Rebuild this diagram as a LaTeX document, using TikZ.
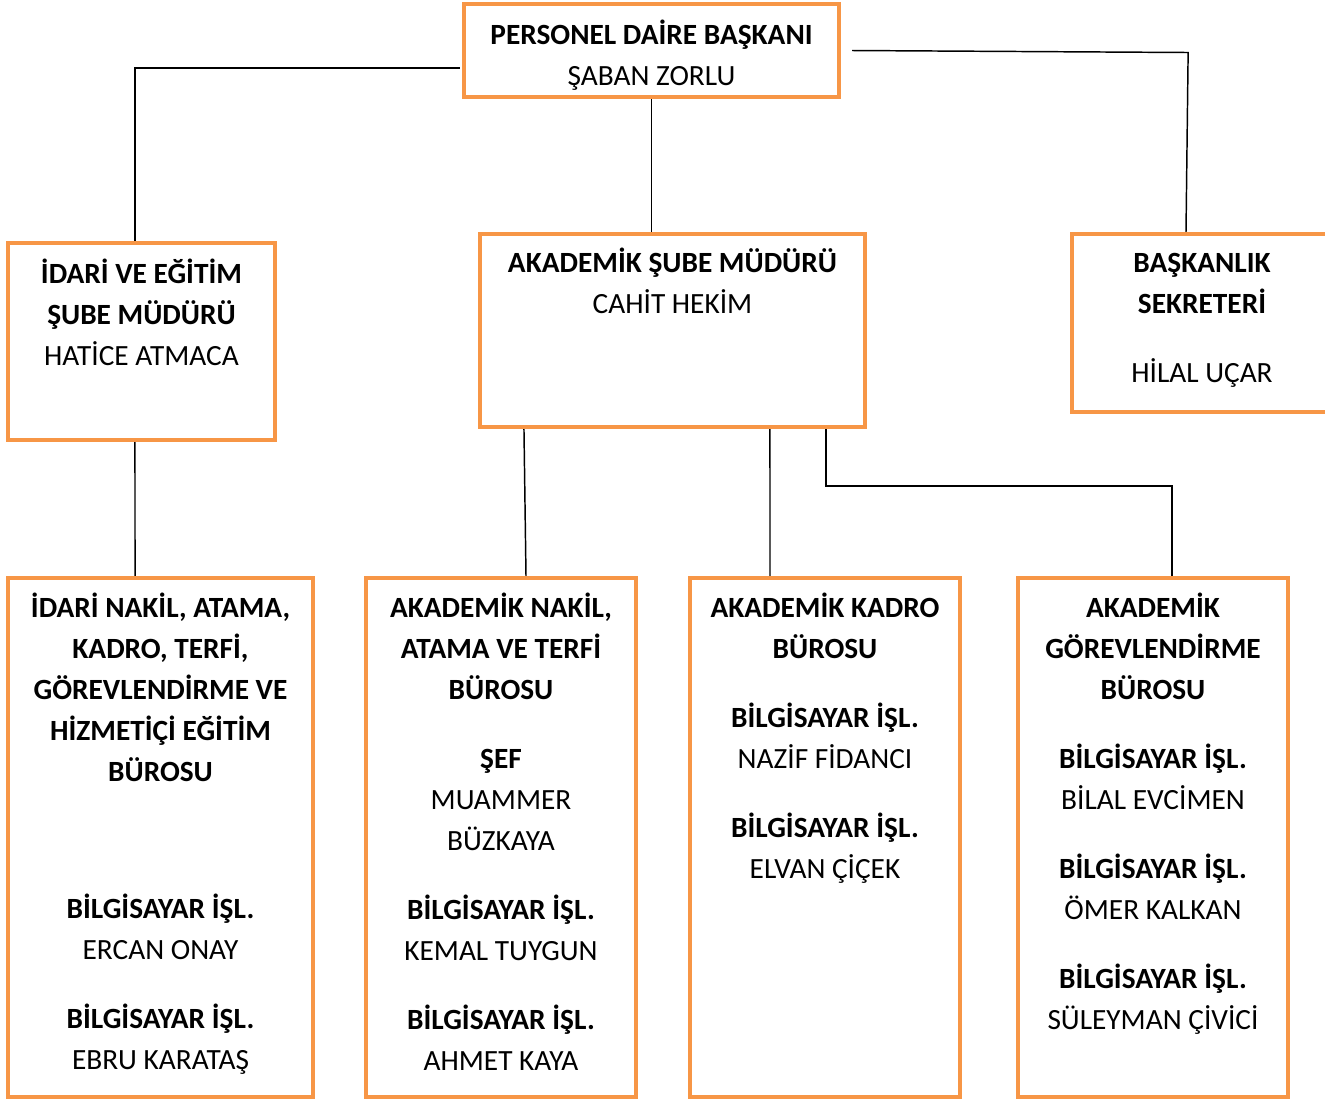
\documentclass[tikz,border=0pt]{standalone}
\usepackage{fontspec}
\setmainfont{Carlito}
\usepackage{tikz}
\usetikzlibrary{positioning}

\definecolor{kutu}{HTML}{F79646}
\newcommand{\ustsatir}{\rule{0pt}{20pt}}

\tikzset{
	birim/.style={draw=kutu,line width=3.2pt,fill=white,inner sep=0pt},
	yazi/.style={align=center,inner sep=0pt,font=\fontsize{22}{30.75}\selectfont},
	hat/.style={line width=1.1pt}
}

\begin{document}
\begin{tikzpicture}[x=0.75pt,y=-0.75pt]
	\useasboundingbox (0,0) rectangle (1325,1101);
	\clip (0,0) rectangle (1325,1101);
	
	\node[birim,minimum width=281.25pt,minimum height=69.75pt] (baskan) at (651.5,50.5) {};
	\node[birim,minimum width=200.25pt,minimum height=147.75pt] (idari) at (141.5,341.5) {};
	\node[birim,minimum width=288.75pt,minimum height=144.75pt] (akad) at (672.5,330.5) {};
	\node[birim,minimum width=195pt,minimum height=133.5pt] (sekreter) at (1202,323) {};
	
	\node[birim,minimum width=228.75pt,minimum height=389.25pt] (idaribur) at (160.5,837.5) {};
	\node[birim,minimum width=202.5pt,minimum height=389.25pt] (nakilbur) at (501,837.5) {};
	\node[birim,minimum width=202.5pt,minimum height=389.25pt] (kadrobur) at (825,837.5) {};
	\node[birim,minimum width=202.5pt,minimum height=389.25pt] (gorevbur) at (1153,837.5) {};
	
	\node[yazi,below=11.85pt of baskan.north] (tbaskan) {
		\ustsatir\textbf{PERSONEL DAİRE BAŞKANI}\\
		ŞABAN ZORLU
	};
	\node[yazi,below=11.85pt of idari.north] (tidari) {
		\ustsatir\textbf{İDARİ VE EĞİTİM}\\
		\textbf{ŞUBE MÜDÜRÜ}\\
		HATİCE ATMACA
	};
	\node[yazi,below=10.35pt of akad.north] (takad) {
		\ustsatir\textbf{AKADEMİK ŞUBE MÜDÜRÜ}\\
		CAHİT HEKİM
	};
	\node[yazi,below=10.35pt of sekreter.north] (tsekreter) {
		\ustsatir\textbf{BAŞKANLIK}\\
		\textbf{SEKRETERİ}\\[21pt]
		HİLAL UÇAR
	};
	
	\node[yazi,below=11.1pt of idaribur.north] (tidaribur) {
		\ustsatir\textbf{İDARİ NAKİL, ATAMA,}\\
		\textbf{KADRO, TERFİ,}\\
		\textbf{GÖREVLENDİRME VE}\\
		\textbf{HİZMETİÇİ EĞİTİM}\\
		\textbf{BÜROSU}\\[72pt]
		\textbf{BİLGİSAYAR İŞL.}\\
		ERCAN ONAY\\[21pt]
		\textbf{BİLGİSAYAR İŞL.}\\
		EBRU KARATAŞ
	};
	\node[yazi,below=11.1pt of nakilbur.north] (tnakilbur) {
		\ustsatir\textbf{AKADEMİK NAKİL,}\\
		\textbf{ATAMA VE TERFİ}\\
		\textbf{BÜROSU}\\[21pt]
		\textbf{ŞEF}\\
		MUAMMER\\
		BÜZKAYA\\[21pt]
		\textbf{BİLGİSAYAR İŞL.}\\
		KEMAL TUYGUN\\[21pt]
		\textbf{BİLGİSAYAR İŞL.}\\
		AHMET KAYA
	};
	\node[yazi,below=11.1pt of kadrobur.north] (tkadrobur) {
		\ustsatir\textbf{AKADEMİK KADRO}\\
		\textbf{BÜROSU}\\[21pt]
		\textbf{BİLGİSAYAR İŞL.}\\
		NAZİF FİDANCI\\[21pt]
		\textbf{BİLGİSAYAR İŞL.}\\
		ELVAN ÇİÇEK
	};
	\node[yazi,below=11.1pt of gorevbur.north] (tgorevbur) {
		\ustsatir\textbf{AKADEMİK}\\
		\textbf{GÖREVLENDİRME}\\
		\textbf{BÜROSU}\\[21pt]
		\textbf{BİLGİSAYAR İŞL.}\\
		BİLAL EVCİMEN\\[21pt]
		\textbf{BİLGİSAYAR İŞL.}\\
		ÖMER KALKAN\\[21pt]
		\textbf{BİLGİSAYAR İŞL.}\\
		SÜLEYMAN ÇİVİCİ
	};
	
	% baglantilar
	\draw[hat] ([xshift=-1.5pt]baskan.west) ++(0,17.5) -| ([xshift=-4.9pt]idari.north);
	\draw[hat] (baskan.south) -- (baskan.south |- akad.north);
	\draw[hat] ([xshift=8.25pt]baskan.east) -- ++(336,2) -- ([xshift=-12pt]sekreter.north);
	
	\draw[hat] ([xshift=-4.9pt]idari.south) -- ([xshift=-19.1pt]idaribur.north);
	\draw[hat] ([xshift=-111.4pt]akad.south) -- ([xshift=18.75pt]nakilbur.north);
	\draw[hat] ([xshift=73.1pt]akad.south) -- ([xshift=-41.25pt]kadrobur.north);
	\draw[hat] ([xshift=115.1pt]akad.south) -- ++(0,57) -| ([xshift=14.25pt]gorevbur.north);
\end{tikzpicture}
\end{document}
